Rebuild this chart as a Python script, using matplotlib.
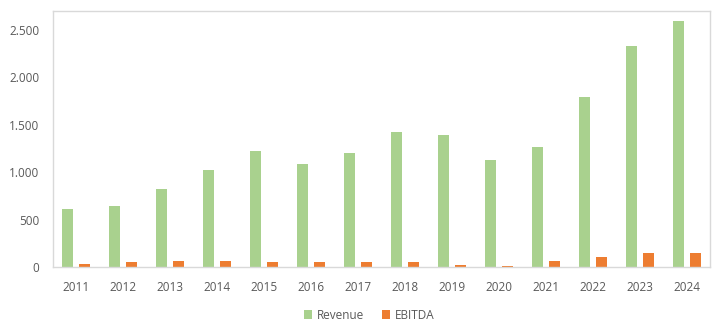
import numpy as np
from matplotlib import pyplot as plt
from matplotlib.ticker import FuncFormatter

years = ['2011', '2012', '2013', '2014', '2015', '2016', '2017',
         '2018', '2019', '2020', '2021', '2022', '2023', '2024']
revenue = [615, 645, 825, 1025, 1225, 1090, 1205,
           1425, 1395, 1130, 1270, 1795, 2325, 2595]
ebitda = [32, 55, 63, 63, 55, 55, 55,
          55, 22, 10, 63, 106, 148, 148]

green = '#A9D18E'
orange = '#ED7D31'
grey = '#D9D9D9'
txt = '#595959'

plt.rcParams['font.family'] = ['Open Sans', 'DejaVu Sans']

fig = plt.figure(figsize=(7.19, 3.30), dpi=100)
ax = fig.add_axes([0.0737, 0.191, 0.9138, 0.776])

x = np.arange(len(years))
w = 0.234
off = 0.181
ax.bar(x - off, revenue, w, color=green, label='Revenue')
ax.bar(x + off, ebitda, w, color=orange, label='EBITDA')

ax.set_xlim(-0.5, len(years) - 0.5)
ax.set_ylim(0, 2700)
ax.set_yticks([0, 500, 1000, 1500, 2000, 2500])
ax.yaxis.set_major_formatter(FuncFormatter(lambda v, p: '{:,.0f}'.format(v).replace(',', '.')))
ax.set_xticks(x)
ax.set_xticklabels(years)
ax.tick_params(length=0, labelsize=8.5, colors=txt)
ax.tick_params(axis='x', pad=10)
ax.tick_params(axis='y', pad=10)
for s in ax.spines.values():
    s.set_color(grey)
    s.set_linewidth(1)

leg = fig.legend(loc='center', bbox_to_anchor=(0.513, 0.045), ncol=2, frameon=False,
                 fontsize=8.5, handlelength=0.7, handleheight=0.7, handletextpad=0.4,
                 columnspacing=1.5)
for t in leg.get_texts():
    t.set_color(txt)

plt.savefig('out.png', dpi=100)
